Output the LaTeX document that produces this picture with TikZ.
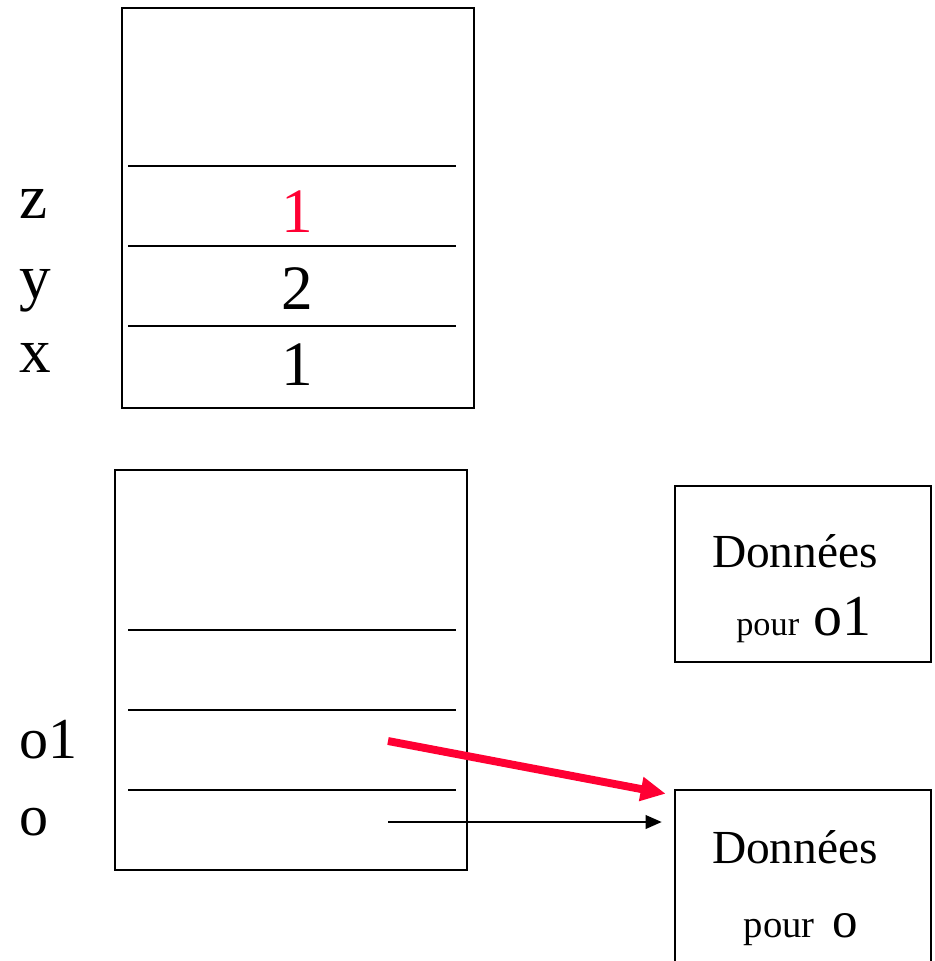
\documentclass[tikz,border=0pt]{standalone}
\usepackage{fontspec}
\setmainfont{Liberation Serif}
\usetikzlibrary{arrows.meta}

\definecolor{ptrred}{RGB}{255,0,51}

\begin{document}
\begin{tikzpicture}[
    x=0.02cm, y=-0.02cm,
    every node/.style={font=\fontsize{36}{40}\selectfont, inner sep=0pt},
    stackframe/.style={draw, line width=1.5pt},
    slotline/.style={line width=1.4pt},
    varname/.style={anchor=base west},
    value/.style={anchor=base},
    databox/.style={draw, line width=1.5pt, minimum width=5.12cm, minimum height=3.52cm},
    mid/.style={font=\fontsize{27}{30}\selectfont},
    refname/.style={font=\fontsize{33}{36}\selectfont}
]

% --- Page area ---
\clip (0,0) rectangle (934,961);

% --- First stack: x, y, z ---
\draw[stackframe] (122,8) rectangle (474,408);
\foreach \y in {166,246,326}
    \draw[slotline] (128,\y) -- (456,\y);

\node[varname] (namez) at (19,218) {z};
\node[varname] (namey) at (19,298) {y};
\node[varname] (namex) at (19,372) {x};

\node[value, ptrred] (valz) at (297,232) {1};
\node[value] (valy) at (297,309) {2};
\node[value] (valx) at (297,385) {1};

% --- Second stack: o, o1 ---
\draw[stackframe] (115,470) rectangle (467,870);
\foreach \y in {630,710,790}
    \draw[slotline] (128,\y) -- (456,\y);

\node[varname, refname] (nameo1) at (19,758) {o1};
\node[varname, refname] (nameo) at (19,835) {o};

% --- Heap objects ---
\node[databox] (datao1) at (803,574) {};
\node[value, mid] (txto1a) at (795,567) {Données};
\node[value, refname] (txto1b) at (804,635) {{\fontsize{19.5}{22}\selectfont pour} o1};

\node[databox] (datao) at (803,878) {};
\node[value, mid] (txtoa) at (795,863) {Données};
\node[value, font=\fontsize{29}{32}\selectfont] (txtob) at (801,937)
    {{\fontsize{22}{24}\selectfont pour}\hspace{0.35em}o};

% --- References ---
\coordinate (ptro1) at (388,741);
\coordinate (ptro) at (388,822);

\draw[-{Triangle[length=0.32cm, width=0.27cm]}, line width=1.2pt]
    (ptro) -- (ptro -| datao.west) [shorten >=0.24cm];
\draw[-{Triangle[length=0.5cm, width=0.46cm]}, line width=4.5pt, ptrred]
    (ptro1) -- ([shift={(-8,5)}]datao.north west);

\end{tikzpicture}
\end{document}
